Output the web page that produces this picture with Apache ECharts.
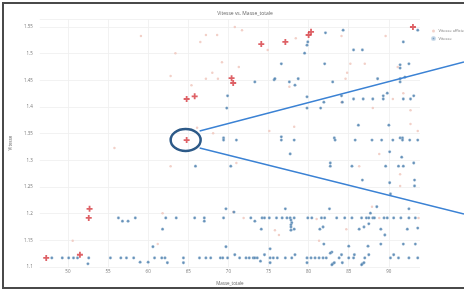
<!DOCTYPE html>
<html>
<head>
<meta charset="utf-8">
<script src="https://cdn.jsdelivr.net/npm/echarts@6/dist/echarts.min.js"></script>
<style>
  html, body { margin: 0; padding: 0; background: #fff; }
  #chart { width: 464px; height: 291px; }
</style>
</head>
<body>
<div id="chart"></div>
<script>
  // tick labels
  const xTicks = [50, 55, 60, 65, 70, 75, 80, 85, 90];

  // points marqués (croix rouges)
  const highlight = [
    [47.3, 1.117], [51.5, 1.123], [52.7, 1.209], [52.6, 1.192], [64.8, 1.338],
    [64.8, 1.415], [65.8, 1.42], [70.4, 1.454], [70.6, 1.445], [74.1, 1.518],
    [77.1, 1.522], [80.0, 1.535], [80.3, 1.541], [93.0, 1.55]
  ];

  // Vitesse officielle (points clairs)
  const officielle = [
    [59.1, 1.533], [63.4, 1.501], [66.5, 1.522], [67.2, 1.535], [68.6, 1.535],
    [70.8, 1.55], [71.7, 1.544], [74.9, 1.507], [78.4, 1.529], [84.1, 1.533],
    [89.6, 1.533], [62.8, 1.458], [65.4, 1.441], [69.2, 1.484], [68.0, 1.464],
    [67.2, 1.453], [68.7, 1.453], [71.3, 1.475], [77.6, 1.438], [84.6, 1.453],
    [84.8, 1.464], [85.2, 1.481], [87.0, 1.481], [91.1, 1.475], [91.8, 1.426],
    [92.7, 1.394], [84.1, 1.409], [88.0, 1.398], [90.5, 1.415], [92.7, 1.368],
    [93.6, 1.355], [75.1, 1.355], [78.2, 1.363], [66.1, 1.361], [68.1, 1.351],
    [55.8, 1.323], [62.8, 1.289], [71.0, 1.295], [86.3, 1.289], [88.8, 1.312],
    [91.4, 1.274], [91.4, 1.252], [87.9, 1.213], [61.8, 1.201], [70.6, 1.203],
    [50.6, 1.149], [61.2, 1.143], [75.8, 1.169], [76.3, 1.16], [84.7, 1.171],
    [81.3, 1.149], [71.9, 1.192], [81.0, 1.19], [88.8, 1.192], [93.7, 1.192]
  ];

  // Vitesse
  const vitesse = [
    [79.9, 1.522], [79.8, 1.516], [79.5, 1.501], [82.1, 1.539], [84.3, 1.544],
    [85.6, 1.507], [86.7, 1.507], [91.8, 1.522], [93.6, 1.544],
    [73.3, 1.447], [75.7, 1.451], [75.8, 1.453], [76.6, 1.481], [77.6, 1.447],
    [78.3, 1.441], [78.7, 1.453], [82.0, 1.481], [83.0, 1.447], [88.6, 1.453],
    [89.8, 1.426], [89.3, 1.421], [89.3, 1.415], [91.4, 1.479], [91.4, 1.473],
    [92.5, 1.481], [91.4, 1.453], [91.4, 1.447], [92.0, 1.456], [91.8, 1.415],
    [92.7, 1.415], [93.1, 1.421],
    [69.9, 1.421], [69.8, 1.398], [79.8, 1.419], [79.8, 1.398], [81.5, 1.398],
    [81.9, 1.409], [84.1, 1.421], [84.2, 1.409], [85.6, 1.415], [86.8, 1.415],
    [88.0, 1.415], [86.2, 1.366], [90.0, 1.366],
    [69.4, 1.342], [69.4, 1.338], [71.0, 1.338], [76.6, 1.344], [76.6, 1.338],
    [78.2, 1.338], [83.2, 1.342], [83.3, 1.338], [85.8, 1.338], [87.9, 1.338],
    [89.1, 1.338], [90.5, 1.338], [91.4, 1.342], [91.7, 1.342], [91.7, 1.338],
    [92.6, 1.338], [93.6, 1.338],
    [65.9, 1.289], [70.3, 1.289], [77.7, 1.312], [90.1, 1.316], [91.6, 1.306],
    [93.1, 1.295], [82.7, 1.295], [82.7, 1.289], [85.4, 1.289], [89.6, 1.289],
    [91.2, 1.289], [91.8, 1.289], [86.7, 1.263], [93.2, 1.263], [93.2, 1.252],
    [90.1, 1.258], [90.2, 1.237],
    [88.5, 1.213], [87.7, 1.201], [92.5, 1.209], [69.7, 1.209], [70.7, 1.203],
    [77.1, 1.209], [82.6, 1.209],
    [56.3, 1.192], [56.8, 1.186], [57.5, 1.186], [58.4, 1.192], [62.2, 1.192],
    [63.5, 1.192], [65.8, 1.192], [67.0, 1.192], [67.0, 1.186], [69.4, 1.192],
    [72.8, 1.192], [74.2, 1.192], [74.5, 1.192], [75.1, 1.192], [76.0, 1.192],
    [76.7, 1.192], [77.3, 1.192], [77.7, 1.192], [78.2, 1.192], [79.9, 1.192],
    [80.4, 1.192], [81.6, 1.192], [82.0, 1.192], [83.5, 1.192], [84.5, 1.192],
    [85.4, 1.192], [86.6, 1.192], [87.2, 1.192], [87.5, 1.192], [88.0, 1.192],
    [88.2, 1.192], [89.4, 1.192], [89.8, 1.192], [90.6, 1.192], [91.5, 1.192],
    [92.5, 1.192], [93.3, 1.192],
    [73.3, 1.186], [77.8, 1.188], [77.9, 1.183], [77.8, 1.179], [77.8, 1.175],
    [77.8, 1.169], [74.1, 1.171], [78.2, 1.171], [81.4, 1.171], [81.8, 1.175],
    [86.3, 1.171], [86.9, 1.175], [87.5, 1.181], [89.0, 1.171], [89.5, 1.16],
    [92.3, 1.171], [93.6, 1.173], [61.8, 1.171],
    [60.6, 1.138], [69.7, 1.138], [75.2, 1.134], [81.9, 1.143], [85.0, 1.139],
    [87.4, 1.139], [89.0, 1.143], [91.8, 1.143], [93.3, 1.143], [82.9, 1.128],
    [48.0, 1.117], [49.3, 1.117], [50.1, 1.117], [50.7, 1.117], [51.2, 1.117],
    [52.6, 1.117], [55.3, 1.117], [56.6, 1.117], [57.3, 1.117], [58.2, 1.117],
    [60.8, 1.117], [61.7, 1.117], [62.1, 1.117], [64.4, 1.117], [66.4, 1.117],
    [67.2, 1.117], [67.8, 1.117], [69.0, 1.117], [69.3, 1.117], [69.9, 1.117],
    [71.4, 1.117], [72.2, 1.117], [72.6, 1.117], [73.1, 1.117], [73.3, 1.117],
    [73.6, 1.117], [75.2, 1.117], [75.6, 1.117], [76.1, 1.117], [77.1, 1.117],
    [77.9, 1.117], [79.8, 1.117], [80.3, 1.117], [80.8, 1.117], [81.3, 1.117],
    [81.8, 1.117], [82.2, 1.117], [83.8, 1.117], [85.0, 1.117], [85.6, 1.117],
    [87.0, 1.117], [90.2, 1.117], [91.2, 1.117], [92.5, 1.117], [93.6, 1.117],
    [70.8, 1.123], [74.5, 1.123], [78.3, 1.123], [84.1, 1.123], [85.7, 1.123],
    [87.5, 1.123], [90.6, 1.123], [82.7, 1.126],
    [52.5, 1.106], [59.0, 1.109], [60.0, 1.109], [62.4, 1.108], [64.4, 1.108],
    [74.0, 1.111], [75.2, 1.108], [79.8, 1.108], [83.0, 1.106], [83.2, 1.108],
    [84.2, 1.108], [86.7, 1.106], [86.9, 1.108], [82.9, 1.104], [86.6, 1.104]
  ];

  // point entouré
  const circled = [64.8, 1.338];

  const font = 'Open Sans';
  const crossPath = 'path://M3.5,0h3v3.5h3.5v3h-3.5v3.5h-3v-3.5h-3.5v-3h3.5z';

  const chart = echarts.init(document.getElementById('chart'));
  const option = {
    animation: false,
    backgroundColor: '#fff',
    title: {
      text: 'Vitesse vs. Masse_totale',
      left: 240,
      top: 6,
      textAlign: 'center',
      textStyle: { fontFamily: font, fontSize: 5, fontWeight: 'normal', color: '#666' }
    },
    legend: {
      data: ['Vitesse officielle', 'Vitesse'],
      orient: 'vertical',
      left: 426,
      top: 24,
      itemWidth: 4,
      itemHeight: 3,
      itemGap: 3,
      textStyle: { fontFamily: font, fontSize: 4, color: '#777', padding: [0, 0, 0, -2] }
    },
    grid: { left: 35, right: 44, top: 19, bottom: 24 },
    xAxis: {
      type: 'value',
      min: 46.5,
      max: 93.88,
      name: 'Masse_totale',
      nameLocation: 'middle',
      nameGap: 14,
      nameTextStyle: { fontFamily: font, fontSize: 4.5, color: '#666' },
      axisLine: { show: false },
      axisTick: { show: false, customValues: xTicks },
      axisLabel: { customValues: xTicks, margin: 2, fontFamily: font, fontSize: 4.5, color: '#777' },
      splitLine: { lineStyle: { color: '#efefef', width: 0.8 } }
    },
    yAxis: {
      type: 'value',
      min: 1.1,
      max: 1.565,
      interval: 0.05,
      name: 'Vitesse',
      nameLocation: 'middle',
      nameGap: 17,
      nameRotate: 90,
      nameTextStyle: { fontFamily: font, fontSize: 4.5, color: '#666' },
      axisLine: { show: false },
      axisTick: { show: false },
      axisLabel: { margin: 7, showMaxLabel: false, fontFamily: font, fontSize: 4.5, color: '#777' },
      splitLine: { lineStyle: { color: '#efefef', width: 0.8 } }
    },
    series: [
      {
        name: 'Vitesse officielle',
        type: 'scatter',
        symbol: 'circle',
        symbolSize: 2.5,
        itemStyle: { color: '#efc4ba' },
        data: officielle
      },
      {
        name: 'Vitesse',
        type: 'scatter',
        symbol: 'circle',
        symbolSize: 2.8,
        itemStyle: { color: '#3f76a8', borderColor: '#c2d5e6', borderWidth: 0.4 },
        data: vitesse
      },
      {
        name: 'marque',
        type: 'scatter',
        symbol: crossPath,
        symbolSize: 6,
        itemStyle: { color: '#d63a40' },
        z: 5,
        data: highlight
      }
    ]
  };
  chart.setOption(option);

  // annotations: cercle autour du point + deux traits vers la droite
  const c = chart.convertToPixel({ seriesIndex: 2 }, circled);
  const cx = c[0] - 1, cy = c[1];
  chart.setOption({
    graphic: [
      {
        type: 'rect',
        shape: { x: 3, y: 3, width: 470, height: 285 },
        style: { fill: 'none', stroke: '#4a4a4a', lineWidth: 2 },
        silent: true
      },
      {
        type: 'ellipse',
        shape: { cx: cx, cy: cy, rx: 15, ry: 11 },
        style: { fill: 'none', stroke: '#2d5a88', lineWidth: 2.5 },
        z: 10
      },
      {
        type: 'line',
        shape: { x1: cx + 14, y1: cy - 9, x2: 464, y2: cy - 78 },
        style: { stroke: '#3b82d4', lineWidth: 1.5 },
        z: 10
      },
      {
        type: 'line',
        shape: { x1: cx + 14, y1: cy + 8, x2: 464, y2: cy + 74 },
        style: { stroke: '#3b82d4', lineWidth: 1.5 },
        z: 10
      }
    ]
  });
</script>
</body>
</html>
